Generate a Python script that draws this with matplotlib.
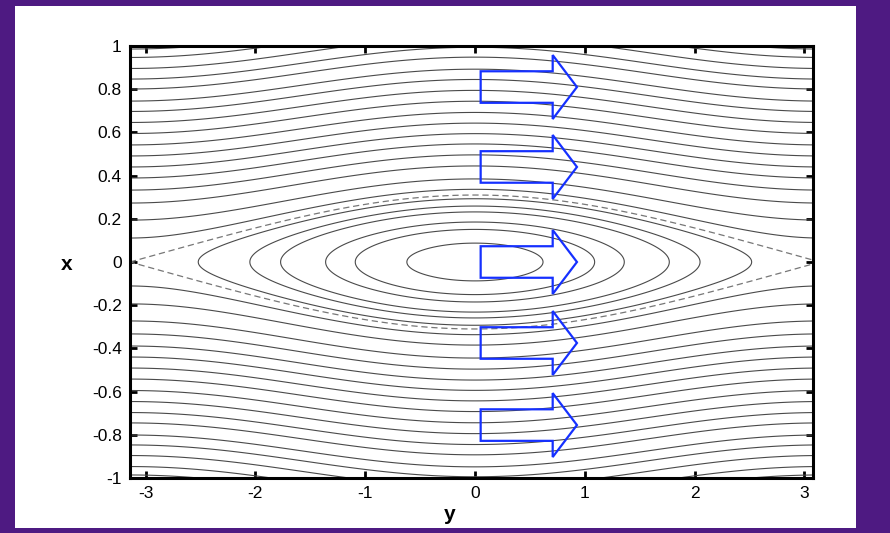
import numpy as np
import matplotlib
matplotlib.use("Agg")
import matplotlib.pyplot as plt
from matplotlib.patches import FancyArrow

plt.rcParams['font.family'] = ['Liberation Sans', 'DejaVu Sans']

# Flux function of a current sheet with an island chain:
#   psi(x, y) = ln cosh(x / a) - eps * cos(y)
sheet_width = 0.275
island_eps = 0.267

# Heights where the open field lines cross the X-point edge (y = -pi)
open_line_heights = [0.111, 0.194, 0.273, 0.333, 0.389, 0.440, 0.491, 0.542,
                     0.595, 0.646, 0.697, 0.745, 0.801, 0.847, 0.896, 0.947, 0.986]
# Half-lengths of the closed island contours along x = 0
island_half_lengths = [0.62, 1.09, 1.36, 1.77, 2.05, 2.52]

# Flow arrows: vertical centres (x) and horizontal extent (y)
arrow_centres = [0.81, 0.44, 0.0, -0.375, -0.755]
arrow_start = 0.052
arrow_end = 0.929

x_ticks = [-1, -0.8, -0.6, -0.4, -0.2, 0, 0.2, 0.4, 0.6, 0.8, 1]
x_tick_labels = ['-1', '-0.8', '-0.6', '-0.4', '-0.2', '0', '0.2', '0.4', '0.6', '0.8', '1']
y_ticks = [-3, -2, -1, 0, 1, 2, 3]
y_tick_labels = ['-3', '-2', '-1', '0', '1', '2', '3']


def psi(x, y):
    return np.log(np.cosh(x / sheet_width)) - island_eps * np.cos(y)


W, H = 890, 533
fig = plt.figure(figsize=(W / 100, H / 100), dpi=100)
fig.patch.set_facecolor('#4e1a82')

# white panel behind the plot
bg = fig.add_axes([15 / W, 1 - 528 / H, (856 - 15) / W, (528 - 6) / H], zorder=0)
bg.set_facecolor('white')
bg.set_xticks([])
bg.set_yticks([])
for s in bg.spines.values():
    s.set_visible(False)

ax = fig.add_axes([130 / W, 1 - 478 / H, (813 - 130) / W, (478 - 46) / H], zorder=1)
ax.set_facecolor('white')

ny = 100
y_max = np.pi - 2 * np.pi / ny
yy = np.linspace(-np.pi, np.pi, 1601)
xx = np.linspace(-1.0, 1.0, 1001)
Y, X = np.meshgrid(yy, xx)
P = psi(X, Y)

closed_levels = sorted(psi(0.0, np.array(island_half_lengths)))
open_levels = sorted(psi(np.array(open_line_heights), np.pi))
sep_level = psi(0.0, np.pi)

ax.contour(Y, X, P, levels=closed_levels + open_levels, colors='#4a4a4a',
           linewidths=0.8, linestyles='solid')
ax.contour(Y, X, P, levels=[sep_level], colors='#777777', linewidths=0.9,
           linestyles=[(0, (5, 3))])

for xc in arrow_centres:
    ax.add_patch(FancyArrow(arrow_start, xc, arrow_end - arrow_start, 0,
                            width=0.146, head_width=0.296, head_length=0.221,
                            length_includes_head=True, fill=False,
                            edgecolor='#1530ff', linewidth=1.6, zorder=5))

ax.set_xlim(-np.pi, y_max)
ax.set_ylim(-1, 1)
ax.set_xticks(y_ticks)
ax.set_xticklabels(y_tick_labels)
ax.set_yticks(x_ticks)
ax.set_yticklabels(x_tick_labels)
ax.tick_params(direction='in', length=5, width=2, top=True, right=True,
               labelsize=12.5, pad=6, colors='black')
for s in ax.spines.values():
    s.set_linewidth(2.2)

ax.set_xlabel('y', fontsize=15, fontweight='bold', labelpad=2)
ax.set_ylabel('x', fontsize=15, fontweight='bold', rotation=0, labelpad=40,
              va='center')
ax.xaxis.set_label_coords((450 - 130) / (813 - 130), -(505 - 478) / (478 - 46))
ax.yaxis.set_label_coords(-(130 - 67) / (813 - 130), (478 - 265) / (478 - 46))

fig.savefig('out.png', dpi=100, facecolor=fig.get_facecolor())
